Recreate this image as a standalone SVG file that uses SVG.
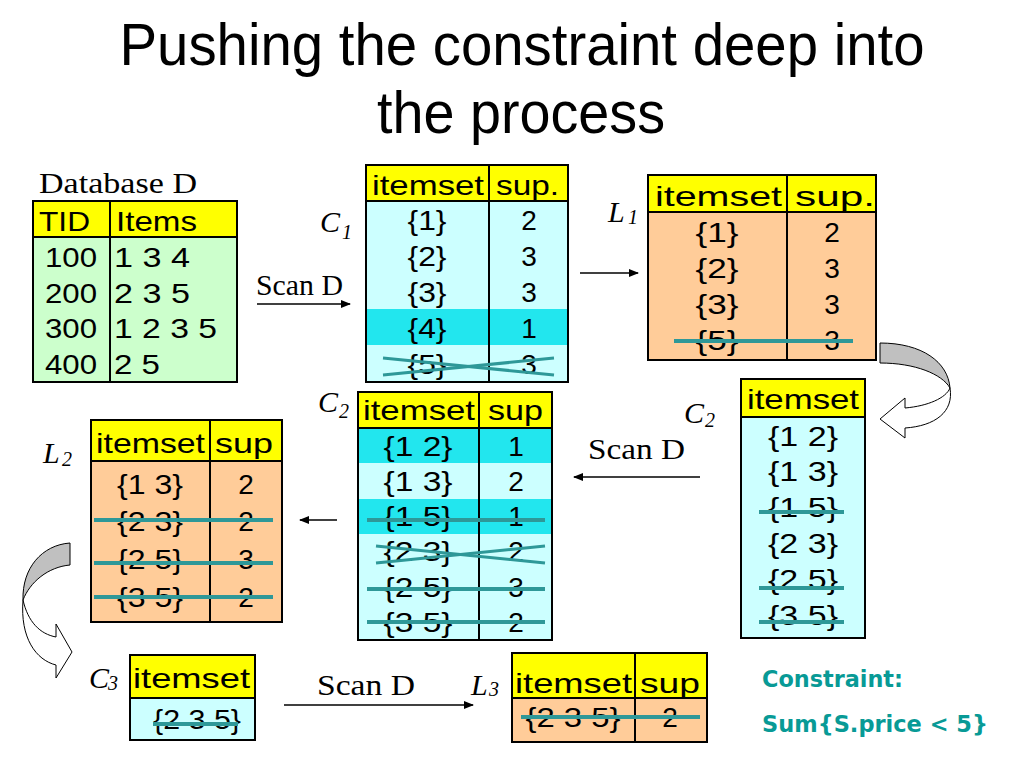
<svg xmlns="http://www.w3.org/2000/svg" width="1024" height="768" viewBox="0 0 1024 768">
<defs>
<marker id="ah" markerWidth="10" markerHeight="8" refX="9" refY="4" orient="auto" markerUnits="userSpaceOnUse">
<path d="M0,0 L10,4 L0,8 Z" fill="#000"/>
</marker>
<style>
.title{font-family:"Liberation Sans",Arial,sans-serif;font-size:59px;fill:#000;text-anchor:middle}
.t{font-family:"Liberation Sans",Arial,sans-serif;font-size:28px;fill:#000}
.m{text-anchor:middle}
.lab{font-family:"Liberation Serif","Times New Roman",serif;font-size:29px;fill:#000}
.it{font-family:"Liberation Serif","Times New Roman",serif;font-style:italic;font-size:30px;fill:#000}
.sub{font-family:"Liberation Serif","Times New Roman",serif;font-style:italic;font-size:20px;fill:#000}
.hdr{fill:#ffff00;stroke:none}
.green{fill:#ccffcc;stroke:none}
.cyan{fill:#ccffff;stroke:none}
.hi{fill:#22e6ee;stroke:none}
.peach{fill:#ffcc99;stroke:none}
.frame{fill:none;stroke:#000;stroke-width:2}
.ln{stroke:#000;stroke-width:2}
.strike{stroke:#2e9898;stroke-width:4;fill:none}
.xs{stroke:#2e9898;stroke-width:3;fill:none}
.arr{stroke:#000;stroke-width:1.5;fill:none;marker-end:url(#ah)}
.con{font-family:"DejaVu Sans",Verdana,sans-serif;font-weight:bold;font-size:23px;fill:#089a96}
</style>
</defs>
<rect width="1024" height="768" fill="#fff"/>

<g id="title">
<text class="title" x="522" y="65" textLength="805" lengthAdjust="spacingAndGlyphs">Pushing the constraint deep into</text>
<text class="title" x="521" y="133" textLength="288" lengthAdjust="spacingAndGlyphs">the process</text>
</g>

<g id="databaseD">
<text class="lab" x="39" y="193" textLength="158" lengthAdjust="spacingAndGlyphs">Database D</text>
<rect class="hdr" x="33" y="201" width="204" height="36"/>
<rect class="green" x="33" y="237" width="204" height="145"/>
<rect class="frame" x="33" y="201" width="204" height="181"/>
<line class="ln" x1="33" y1="237" x2="237" y2="237"/>
<line class="ln" x1="110" y1="201" x2="110" y2="382"/>
<text class="t" x="39" y="231" textLength="51" lengthAdjust="spacingAndGlyphs">TID</text>
<text class="t" x="116" y="231" textLength="81" lengthAdjust="spacingAndGlyphs">Items</text>
<text class="t" x="45" y="267" textLength="52" lengthAdjust="spacingAndGlyphs">100</text>
<text class="t" x="45" y="303" textLength="52" lengthAdjust="spacingAndGlyphs">200</text>
<text class="t" x="45" y="338" textLength="52" lengthAdjust="spacingAndGlyphs">300</text>
<text class="t" x="45" y="374" textLength="52" lengthAdjust="spacingAndGlyphs">400</text>
<text class="t" x="114" y="267" textLength="76" lengthAdjust="spacingAndGlyphs">1 3 4</text>
<text class="t" x="114" y="303" textLength="76" lengthAdjust="spacingAndGlyphs">2 3 5</text>
<text class="t" x="114" y="338" textLength="103" lengthAdjust="spacingAndGlyphs">1 2 3 5</text>
<text class="t" x="114" y="374" textLength="46" lengthAdjust="spacingAndGlyphs">2 5</text>
</g>

<g id="C1">
<text class="it" x="320" y="232">C</text><text class="sub" x="342" y="239">1</text>
<rect class="hdr" x="366" y="165" width="202" height="36"/>
<rect class="cyan" x="366" y="201" width="202" height="181"/>
<rect class="hi" x="366" y="309" width="202" height="36"/>
<rect class="frame" x="366" y="165" width="202" height="217"/>
<line class="ln" x1="366" y1="201" x2="568" y2="201"/>
<line class="ln" x1="489" y1="165" x2="489" y2="382"/>
<text class="t" x="372" y="195" textLength="112" lengthAdjust="spacingAndGlyphs">itemset</text>
<text class="t" x="496" y="195" textLength="63" lengthAdjust="spacingAndGlyphs">sup.</text>
<text class="t m" x="427" y="230" textLength="39" lengthAdjust="spacingAndGlyphs">{1}</text>
<text class="t m" x="427" y="266" textLength="39" lengthAdjust="spacingAndGlyphs">{2}</text>
<text class="t m" x="427" y="302" textLength="39" lengthAdjust="spacingAndGlyphs">{3}</text>
<text class="t m" x="427" y="338" textLength="39" lengthAdjust="spacingAndGlyphs">{4}</text>
<text class="t m" x="427" y="374" textLength="39" lengthAdjust="spacingAndGlyphs">{5}</text>
<text class="t m" x="529" y="230">2</text>
<text class="t m" x="529" y="266">3</text>
<text class="t m" x="529" y="302">3</text>
<text class="t m" x="529" y="338">1</text>
<text class="t m" x="529" y="374">3</text>
<line class="xs" x1="383" y1="358" x2="554" y2="375"/>
<line class="xs" x1="383" y1="375" x2="554" y2="358"/>
</g>

<g id="L1">
<text class="it" x="608" y="222">L</text><text class="sub" x="628" y="224">1</text>
<rect class="hdr" x="648" y="175" width="228" height="37"/>
<rect class="peach" x="648" y="212" width="228" height="148"/>
<rect class="frame" x="648" y="175" width="228" height="185"/>
<line class="ln" x1="648" y1="212" x2="876" y2="212"/>
<line class="ln" x1="787" y1="175" x2="787" y2="360"/>
<text class="t" x="655" y="206" font-size="30" textLength="127" lengthAdjust="spacingAndGlyphs">itemset</text>
<text class="t" x="795" y="206" font-size="30" textLength="80" lengthAdjust="spacingAndGlyphs">sup.</text>
<text class="t m" x="717" y="242" font-size="30" textLength="43" lengthAdjust="spacingAndGlyphs">{1}</text>
<text class="t m" x="717" y="278" font-size="30" textLength="43" lengthAdjust="spacingAndGlyphs">{2}</text>
<text class="t m" x="717" y="314" font-size="30" textLength="43" lengthAdjust="spacingAndGlyphs">{3}</text>
<text class="t m" x="717" y="350" font-size="30" textLength="43" lengthAdjust="spacingAndGlyphs">{5}</text>
<text class="t m" x="832" y="242" font-size="30">2</text>
<text class="t m" x="832" y="278" font-size="30">3</text>
<text class="t m" x="832" y="314" font-size="30">3</text>
<text class="t m" x="832" y="350" font-size="30">3</text>
<line class="strike" x1="674" y1="341" x2="853" y2="341"/>
</g>

<g id="C2b">
<text class="it" x="684" y="423">C</text><text class="sub" x="705" y="427">2</text>
<rect class="hdr" x="741" y="379" width="124" height="38"/>
<rect class="cyan" x="741" y="417" width="124" height="221"/>
<rect class="frame" x="741" y="379" width="124" height="259"/>
<line class="ln" x1="741" y1="417" x2="865" y2="417"/>
<text class="t" x="747" y="409" textLength="112" lengthAdjust="spacingAndGlyphs">itemset</text>
<text class="t m" x="803" y="446" textLength="70" lengthAdjust="spacingAndGlyphs">{1 2}</text>
<text class="t m" x="803" y="481" textLength="70" lengthAdjust="spacingAndGlyphs">{1 3}</text>
<text class="t m" x="803" y="517" textLength="70" lengthAdjust="spacingAndGlyphs">{1 5}</text>
<text class="t m" x="803" y="553" textLength="70" lengthAdjust="spacingAndGlyphs">{2 3}</text>
<text class="t m" x="803" y="589" textLength="70" lengthAdjust="spacingAndGlyphs">{2 5}</text>
<text class="t m" x="803" y="625" textLength="70" lengthAdjust="spacingAndGlyphs">{3 5}</text>
<line class="strike" x1="759" y1="512" x2="844" y2="512"/>
<line class="strike" x1="759" y1="588" x2="844" y2="588"/>
<line class="strike" x1="759" y1="622" x2="844" y2="622"/>
</g>

<g id="C2">
<text class="it" x="318" y="412">C</text><text class="sub" x="339" y="418">2</text>
<rect class="hdr" x="358" y="392" width="194" height="36"/>
<rect class="cyan" x="358" y="428" width="194" height="212"/>
<rect class="hi" x="358" y="428" width="194" height="35"/>
<rect class="hi" x="358" y="499" width="194" height="35"/>
<rect class="frame" x="358" y="392" width="194" height="248"/>
<line class="ln" x1="358" y1="428" x2="552" y2="428"/>
<line class="ln" x1="479" y1="392" x2="479" y2="640"/>
<text class="t" x="363" y="420" textLength="112" lengthAdjust="spacingAndGlyphs">itemset</text>
<text class="t" x="488" y="420" textLength="55" lengthAdjust="spacingAndGlyphs">sup</text>
<text class="t m" x="418" y="456" textLength="69" lengthAdjust="spacingAndGlyphs">{1 2}</text>
<text class="t m" x="418" y="491" textLength="69" lengthAdjust="spacingAndGlyphs">{1 3}</text>
<text class="t m" x="418" y="526" textLength="69" lengthAdjust="spacingAndGlyphs">{1 5}</text>
<text class="t m" x="418" y="561" textLength="69" lengthAdjust="spacingAndGlyphs">{2 3}</text>
<text class="t m" x="418" y="597" textLength="69" lengthAdjust="spacingAndGlyphs">{2 5}</text>
<text class="t m" x="418" y="632" textLength="69" lengthAdjust="spacingAndGlyphs">{3 5}</text>
<text class="t m" x="516" y="456">1</text>
<text class="t m" x="516" y="491">2</text>
<text class="t m" x="516" y="526">1</text>
<text class="t m" x="516" y="561">2</text>
<text class="t m" x="516" y="597">3</text>
<text class="t m" x="516" y="632">2</text>
<line class="strike" x1="367" y1="520" x2="545" y2="520"/>
<line class="xs" x1="376" y1="546" x2="545" y2="563"/>
<line class="xs" x1="376" y1="563" x2="545" y2="546"/>
<line class="strike" x1="367" y1="589" x2="545" y2="589"/>
<line class="strike" x1="367" y1="622" x2="545" y2="622"/>
</g>

<g id="L2">
<text class="it" x="43" y="463">L</text><text class="sub" x="62" y="466">2</text>
<rect class="hdr" x="91" y="420" width="191" height="41"/>
<rect class="peach" x="91" y="461" width="191" height="161"/>
<rect class="frame" x="91" y="420" width="191" height="202"/>
<line class="ln" x1="91" y1="461" x2="282" y2="461"/>
<line class="ln" x1="210" y1="420" x2="210" y2="622"/>
<text class="t" x="96" y="453" textLength="109" lengthAdjust="spacingAndGlyphs">itemset</text>
<text class="t" x="215" y="453" textLength="58" lengthAdjust="spacingAndGlyphs">sup</text>
<text class="t m" x="150" y="494" textLength="66" lengthAdjust="spacingAndGlyphs">{1 3}</text>
<text class="t m" x="150" y="531" textLength="66" lengthAdjust="spacingAndGlyphs">{2 3}</text>
<text class="t m" x="150" y="569" textLength="66" lengthAdjust="spacingAndGlyphs">{2 5}</text>
<text class="t m" x="150" y="607" textLength="66" lengthAdjust="spacingAndGlyphs">{3 5}</text>
<text class="t m" x="246" y="494">2</text>
<text class="t m" x="246" y="531">2</text>
<text class="t m" x="246" y="569">3</text>
<text class="t m" x="246" y="607">2</text>
<line class="strike" x1="94" y1="520" x2="273" y2="520"/>
<line class="strike" x1="94" y1="563" x2="273" y2="563"/>
<line class="strike" x1="94" y1="597" x2="273" y2="597"/>
</g>

<g id="C3">
<text class="it" x="89" y="688">C</text><text class="sub" x="108" y="690">3</text>
<rect class="hdr" x="130" y="655" width="125" height="43"/>
<rect class="cyan" x="130" y="698" width="125" height="42"/>
<rect class="frame" x="130" y="655" width="125" height="85"/>
<line class="ln" x1="130" y1="698" x2="255" y2="698"/>
<text class="t" x="133" y="688" font-size="30" textLength="117" lengthAdjust="spacingAndGlyphs">itemset</text>
<text class="t m" x="197" y="729" font-size="29" textLength="88" lengthAdjust="spacingAndGlyphs">{2 3 5}</text>
<line class="strike" x1="153" y1="724" x2="238" y2="724"/>
</g>

<g id="L3">
<text class="it" x="471" y="695">L</text><text class="sub" x="489" y="696">3</text>
<rect class="hdr" x="512" y="653" width="195" height="45"/>
<rect class="peach" x="512" y="698" width="195" height="44"/>
<rect class="frame" x="512" y="653" width="195" height="89"/>
<line class="ln" x1="512" y1="698" x2="707" y2="698"/>
<line class="ln" x1="635" y1="653" x2="635" y2="742"/>
<text class="t" x="515" y="693" font-size="30" textLength="117" lengthAdjust="spacingAndGlyphs">itemset</text>
<text class="t" x="640" y="693" font-size="30" textLength="60" lengthAdjust="spacingAndGlyphs">sup</text>
<text class="t m" x="573" y="727" font-size="30" textLength="95" lengthAdjust="spacingAndGlyphs">{2 3 5}</text>
<text class="t m" x="670" y="727" font-size="30">2</text>
<line class="strike" x1="521" y1="717" x2="700" y2="717"/>
</g>

<g id="constraint">
<text class="con" x="762" y="687" textLength="141" lengthAdjust="spacingAndGlyphs">Constraint:</text>
<text class="con" x="762" y="732" textLength="226" lengthAdjust="spacingAndGlyphs">Sum{S.price &lt; 5}</text>
</g>

<g id="connectors">
<text class="lab" x="256" y="295" textLength="87" lengthAdjust="spacingAndGlyphs">Scan D</text>
<line class="arr" x1="257" y1="304" x2="350" y2="304"/>
<line class="arr" x1="580" y1="273" x2="638" y2="273"/>
<text class="lab" x="588" y="459" textLength="97" lengthAdjust="spacingAndGlyphs">Scan D</text>
<line class="arr" x1="700" y1="477" x2="574" y2="477"/>
<line class="arr" x1="337" y1="520" x2="300" y2="520"/>
<text class="lab" x="317" y="695" textLength="98" lengthAdjust="spacingAndGlyphs">Scan D</text>
<line class="arr" x1="284" y1="705" x2="473" y2="705"/>
<path d="M950,388 C954,412 935,426 905,428 L905,438 L880,419 L905,398 L905,408 C928,406 946,398 950,388 Z" fill="#fff" stroke="#000" stroke-width="1"/>
<path d="M880,343 C922,343 948,362 950,388 C942,374 915,363 880,363 Z" fill="#c0c0c0" stroke="#000" stroke-width="1"/>
<path d="M23,600 C20,638 36,660 56,665 L56,678 L72,652 L56,624 L56,637 C40,634 28,622 23,600 Z" fill="#fff" stroke="#000" stroke-width="1"/>
<path d="M70,543 C42,545 22,568 23,600 C30,582 48,567 70,565 Z" fill="#c0c0c0" stroke="#000" stroke-width="1"/>
</g>
</svg>
